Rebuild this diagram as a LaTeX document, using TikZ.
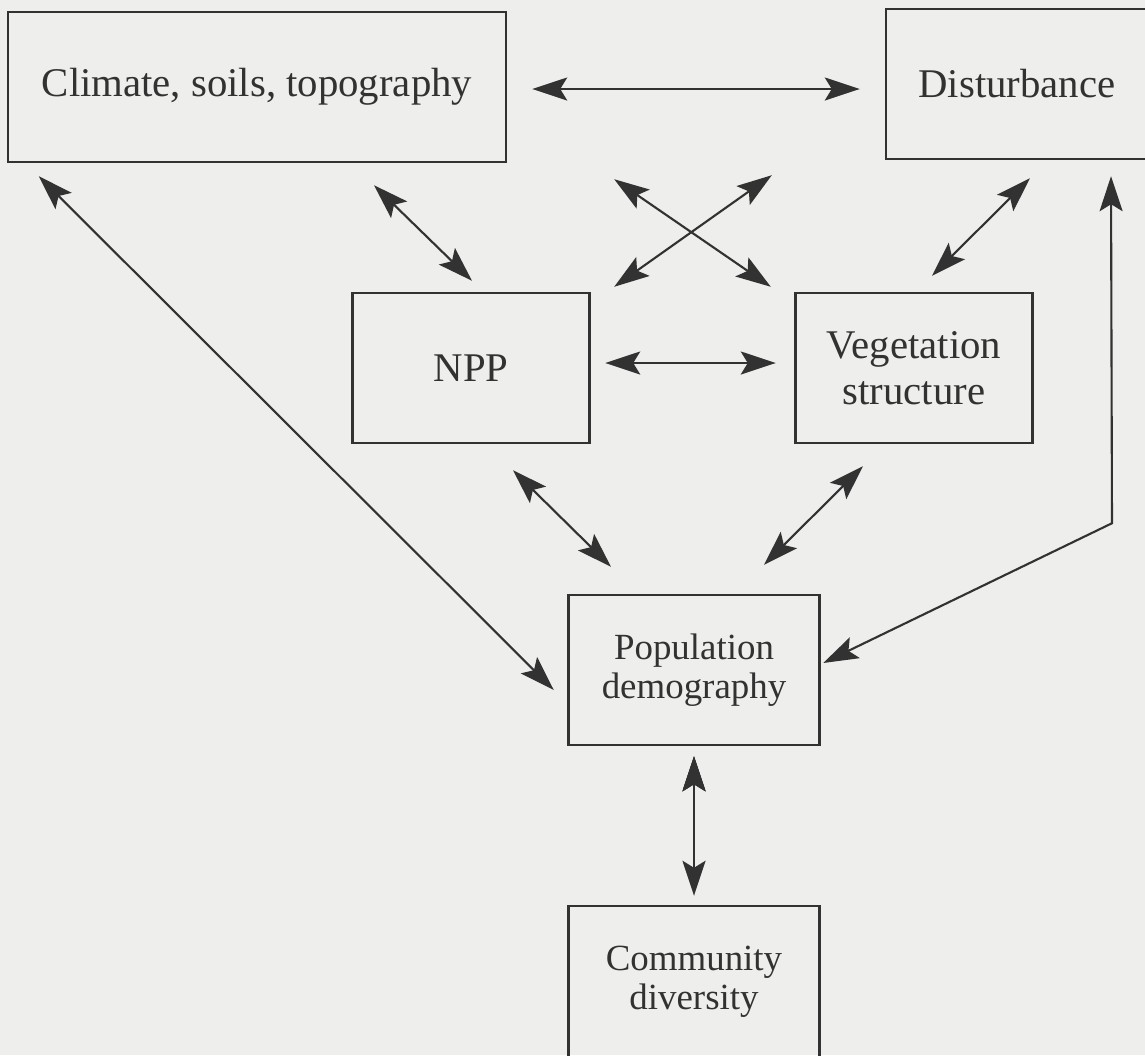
\documentclass[tikz,border=0pt]{standalone}
\usepackage{fontspec}
\setmainfont{Liberation Serif}
\usetikzlibrary{arrows.meta,positioning}
\definecolor{paper}{RGB}{238,238,236}
\definecolor{ink}{RGB}{50,50,50}

\begin{document}
\begin{tikzpicture}[>={Stealth[length=3.5mm,width=2.3mm,inset=0.7mm]},on grid,
 box/.style={draw=ink,line width=0.7pt,text=ink,align=center,inner sep=0pt},
 big/.style={font=\fontsize{11.6}{13}\selectfont},
 small/.style={font=\fontsize{10.5}{11}\selectfont},
 link/.style={ink,line width=0.6pt}]
 \fill[paper] (0,0) rectangle (11.45,10.55);
 \useasboundingbox (0,0) rectangle (11.45,10.55);

 \node[box,big,minimum width=4.98cm,minimum height=1.5cm] (clim) at (2.57,9.68) {Climate, soils, topography};
 \node[box,big,minimum width=2.62cm,minimum height=1.5cm,right=7.6cm of clim,yshift=0.3mm] (dist) {Disturbance};
 \node[box,big,minimum width=2.37cm,minimum height=1.5cm,below right=2.81cm and 2.14cm of clim] (npp) {NPP};
 \node[box,big,minimum width=2.37cm,minimum height=1.5cm,right=4.43cm of npp] (veg) {Vegetation\\structure};
 \node[box,small,minimum width=2.51cm,minimum height=1.5cm,below right=3.02cm and 2.23cm of npp] (pop) {Population\\demography};
 \node[box,small,minimum width=2.51cm,minimum height=1.52cm,below=3.12cm of pop] (comm) {Community\\diversity};

 \draw[link,<->] ([xshift=2.5mm,yshift=-0.2mm]clim.east) edge ([xshift=-2.5mm,yshift=-0.5mm]dist.west)
 ([xshift=11.7mm,yshift=-2.2mm]clim.south) edge ([xshift=0.1mm,yshift=1.1mm]npp.north)
 ([xshift=10.7mm,yshift=-1.6mm]clim.south east) edge ([xshift=-2.35mm,yshift=0.5mm]veg.north west)
 ([xshift=-11.3mm,yshift=-1.5mm]dist.south west) edge ([xshift=2.35mm,yshift=0.5mm]npp.north east)
 ([xshift=1.3mm,yshift=-1.8mm]dist.south) edge ([xshift=1.8mm,yshift=1.6mm]veg.north)
 ([xshift=1.45mm,yshift=0.5mm]npp.east) edge ([xshift=-1.85mm,yshift=0.5mm]veg.west)
 ([xshift=3.2mm,yshift=-1.3mm]clim.south west) edge ([xshift=-1.35mm,yshift=-2mm]pop.west)
 ([xshift=4.2mm,yshift=-2.6mm]npp.south) edge ([xshift=-8.3mm,yshift=2.7mm]pop.north)
 ([xshift=-5.1mm,yshift=-2.2mm]veg.south) edge ([xshift=7mm,yshift=2.9mm]pop.north)
 ([yshift=-1mm]pop.south) edge ([yshift=0.9mm]comm.north);

 \draw[link,<->] ([xshift=9.4mm,yshift=-1.6mm]dist.south) -- ++(0.01,-3.47) -- ([xshift=0.25mm,yshift=0.7mm]pop.east);
\end{tikzpicture}
\end{document}
